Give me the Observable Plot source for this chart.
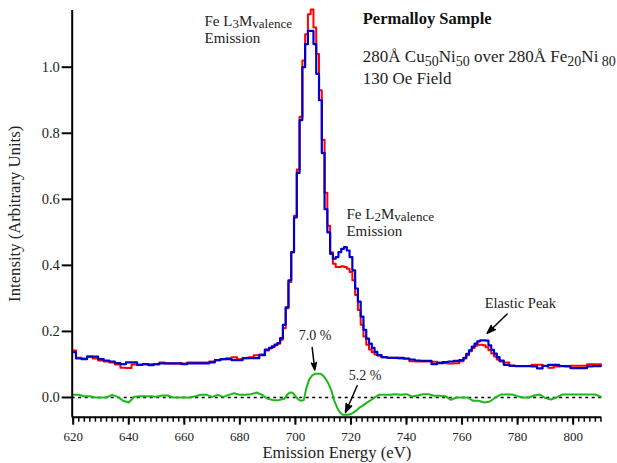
<!DOCTYPE html>
<html><head><meta charset="utf-8">
<script src="https://cdn.jsdelivr.net/npm/d3@7"></script>
<script src="https://cdn.jsdelivr.net/npm/@observablehq/plot@0.6"></script>
<style>html,body{margin:0;padding:0;background:#fff;}</style>
</head><body><div id="chart"></div>
<script>
// ---------- data ----------
const energy = [
  620,622,624,626,628,630,632,634,636,638,640,642,644,646,648,650,652,654,656,658,660,662,664,666,668,670,672,674,676,678,680,682,684,686,688,
  690,691,692,693,694,695,696,697,698,699,700,701,702,703,704,705,706,707,708,709,710,711,712,713,714,715,716,717,718,719,720,721,722,723,724,725,726,727,728,729,730,
  732,734,736,738,740,742,744,746,748,750,752,754,756,758,
  760,761,762,763,764,765,766,767,768,769,770,771,772,773,774,
  776,778,780,782,784,786,788,790,792,794,796,798,800,802,804,806,808,810
];
const blueIntensity = [
  0.137,0.118,0.116,0.124,0.124,0.116,0.112,0.109,0.104,0.101,0.106,0.106,0.099,0.101,0.098,0.101,0.103,0.103,0.103,0.103,0.101,0.103,0.103,0.103,0.103,0.106,0.113,0.116,0.116,0.113,0.113,0.119,0.119,0.119,0.128,
  0.145,0.15,0.155,0.16,0.165,0.18,0.22,0.273,0.355,0.44,0.545,0.68,0.84,1.0,1.07,1.11,1.11,1.07,0.98,0.90,0.74,0.57,0.50,0.435,0.42,0.425,0.44,0.45,0.455,0.445,0.425,0.385,0.33,0.29,0.245,0.205,0.178,0.163,0.150,0.138,0.128,
  0.122,0.120,0.120,0.120,0.118,0.115,0.112,0.111,0.111,0.101,0.104,0.107,0.109,0.111,
  0.113,0.120,0.132,0.143,0.154,0.163,0.170,0.173,0.173,0.172,0.158,0.144,0.133,0.122,0.112,
  0.099,0.096,0.095,0.095,0.095,0.094,0.088,0.096,0.099,0.099,0.095,0.094,0.089,0.089,0.089,0.094,0.095,0.095
];
const redIntensity = [
  0.142,0.120,0.118,0.124,0.118,0.112,0.109,0.106,0.100,0.090,0.089,0.100,0.099,0.101,0.101,0.101,0.106,0.103,0.103,0.103,0.103,0.106,0.106,0.106,0.106,0.109,0.113,0.116,0.119,0.122,0.116,0.119,0.122,0.128,0.130,
  0.142,0.148,0.152,0.158,0.163,0.175,0.21,0.27,0.35,0.44,0.55,0.69,0.85,1.02,1.10,1.16,1.175,1.12,1.04,0.93,0.78,0.62,0.52,0.44,0.405,0.395,0.395,0.397,0.395,0.39,0.38,0.355,0.31,0.265,0.22,0.185,0.16,0.145,0.137,0.13,0.127,
  0.122,0.120,0.120,0.118,0.117,0.110,0.109,0.109,0.109,0.108,0.106,0.104,0.103,0.104,
  0.110,0.118,0.128,0.140,0.150,0.157,0.160,0.160,0.158,0.152,0.143,0.133,0.124,0.115,0.109,
  0.106,0.097,0.095,0.095,0.095,0.099,0.099,0.095,0.090,0.094,0.095,0.095,0.096,0.096,0.096,0.101,0.101,0.101
];
const diffEnergy = [
  620,622,624,626,628,630,632,634,636,638,640,642,644,646,648,650,652,654,656,658,660,662,664,666,668,670,672,674,676,678,680,682,684,686,688,690,692,694,696,
  697,698,699,700,701,702,703,704,705,706,707,708,709,710,711,712,713,714,715,716,717,718,719,720,721,722,723,724,725,726,727,728,729,730,
  732,734,736,738,740,742,744,746,748,750,752,754,756,758,760,762,764,766,768,770,772,774,776,778,780,782,784,786,788,790,792,794,796,798,800,802,804,806,808,810
];
const difference = [
  0.008,0.008,0.004,0.004,0.0,0.0,0.0,0.008,0.002,-0.01,-0.015,0.002,0.004,0.004,0.004,0.002,0.006,0.006,0.0,0.0,0.0,0.0,0.004,0.008,0.008,0.002,0.008,0.002,0.008,0.013,0.008,0.008,0.01,0.015,0.008,-0.004,-0.008,-0.008,-0.004,
  0.008,0.015,0.014,0.004,-0.006,-0.01,-0.008,0.03,0.055,0.066,0.072,0.072,0.072,0.066,0.055,0.04,0.02,-0.01,-0.03,-0.045,-0.052,-0.052,-0.052,-0.05,-0.045,-0.039,-0.031,-0.026,-0.02,-0.014,-0.009,-0.003,0.003,0.008,
  0.008,0.008,0.01,0.008,0.01,0.003,0.006,0.01,0.01,0.005,0.005,0.004,-0.007,0.0,0.0,0.0,-0.01,-0.01,-0.015,-0.012,0.0,0.009,0.009,0.009,0.004,0.0,0.0,0.006,0.009,-0.002,-0.006,0.0,0.009,0.009,0.009,0.009,0.009,0.009,0.009,0.002
];
const xMajorTicks = [620,640,660,680,700,720,740,760,780,800];
const xMinorTicks = [620,622,624,626,628,630,632,634,636,638,640,642,644,646,648,650,652,654,656,658,660,662,664,666,668,670,672,674,676,678,680,682,684,686,688,690,692,694,696,698,700,702,704,706,708,710,712,714,716,718,720,722,724,726,728,730,732,734,736,738,740,742,744,746,748,750,752,754,756,758,760,762,764,766,768,770,772,774,776,778,780,782,784,786,788,790,792,794,796,798,800,802,804,806,808,810];
const yTicks = [0, 0.2, 0.4, 0.6, 0.8, 1.0];
const xLabel = "Emission Energy (eV)";
const yLabel = "Intensity (Arbitrary Units)";

// annotations (text, energy, intensity at baseline-left); _{..} marks a subscript
const peakL3Text = ["Fe L_{3}M_{valence}", "Emission"];
const peakL3E = [667.27, 667.27];
const peakL3I = [1.1248, 1.0739];
const peakL2Text = ["Fe L_{2}M_{valence}", "Emission"];
const peakL2E = [718.38, 718.38];
const peakL2I = [0.5406, 0.49];
const titleText = ["Permalloy Sample"];
const titleE = [724.25];
const titleI = [1.1294];
const sampleText = ["280Å Cu_{50}Ni_{50} over 280Å Fe_{20}Ni_{ 80}", "130 Oe Field"];
const sampleE = [724.25, 724.25];
const sampleI = [1.0152, 0.9497];
const elasticText = ["Elastic Peak"];
const elasticE = [768.16];
const elasticI = [0.2697];
const pctText = ["7.0 %", "5.2 %"];
const pctE = [701.21, 719.21];
const pctI = [0.1739, 0.0527];
const arrowE1 = [706.03, 722.23, 776.23];
const arrowI1 = [0.1515, 0.0355, 0.2527];
const arrowE2 = [706.97, 718.02, 769.03];
const arrowI2 = [0.0833, -0.0455, 0.1939];

// ---------- build ----------
const redData = energy.map((E, i) => ({E, v: redIntensity[i]}));
const blueData = energy.map((E, i) => ({E, v: blueIntensity[i]}));
const diffData = diffEnergy.map((E, i) => ({E, v: difference[i]}));
const table = (t, e, v) => t.map((s, i) => ({s, E: e[i], v: v[i]}));
const arrows = arrowE1.map((e, i) => ({x1: e, y1: arrowI1[i], x2: arrowE2[i], y2: arrowI2[i]}));

const xDomain = [619.64, 810.2];
const yDomain = [-0.0597, 1.1717];
const serif = "'Liberation Serif', 'Times New Roman', Times, serif";
const ink = "#222";

const note = (rows, size, extra = {}) =>
  Plot.text(rows, {x: "E", y: "v", text: "s", textAnchor: "start", lineAnchor: "bottom",
    fontSize: size, fill: ink, fontFamily: serif, ...extra});

const chart = Plot.plot({
  width: 617, height: 463,
  marginLeft: 71.7, marginRight: 16, marginTop: 10, marginBottom: 46.3,
  x: {domain: xDomain, axis: null},
  y: {domain: yDomain, axis: null},
  style: {fontFamily: serif, color: ink, background: "#fff", overflow: "visible"},
  marks: [
    Plot.ruleY([0], {stroke: "#000", strokeWidth: 1.5, strokeDasharray: "3,3.5"}),
    Plot.line(redData, {x: "E", y: "v", stroke: "#ff0000", strokeWidth: 2, curve: "step"}),
    Plot.line(blueData, {x: "E", y: "v", stroke: "#0000cc", strokeWidth: 2.2, curve: "step"}),
    Plot.line(diffData, {x: "E", y: "v", stroke: "#1cb81c", strokeWidth: 2, curve: "linear"}),
    Plot.axisX({ticks: xMinorTicks, tickSize: 5, tickFormat: () => "", stroke: "#000", strokeWidth: 1.5, label: null}),
    Plot.axisX({ticks: xMajorTicks, tickSize: 8, tickPadding: 7, tickFormat: d => String(d), stroke: "#000", strokeWidth: 2, fontSize: 13, fill: ink, label: null}),
    Plot.axisY({ticks: yTicks, tickSize: 10, tickPadding: 2.4, tickFormat: d3.format(".1f"), stroke: "#000", strokeWidth: 2, fontSize: 14.5, fill: ink, label: null}),
    Plot.ruleX([xDomain[0]], {stroke: "#000", strokeWidth: 2}),
    Plot.ruleY([yDomain[0]], {stroke: "#000", strokeWidth: 2}),
    Plot.text([xLabel], {text: d => d, frameAnchor: "bottom", dy: 41, lineAnchor: "bottom", textAnchor: "middle", fontSize: 16.7, fill: ink}),
    Plot.text([yLabel], {text: d => d, frameAnchor: "left", dx: -52, rotate: -90, lineAnchor: "bottom", textAnchor: "middle", fontSize: 16.7, fill: ink}),
    note(table(peakL3Text, peakL3E, peakL3I), 15),
    note(table(peakL2Text, peakL2E, peakL2I), 15),
    note(table(titleText, titleE, titleI), 16.5, {fontWeight: "bold", fill: "#111"}),
    note(table(sampleText, sampleE, sampleI), 17),
    note(table(elasticText, elasticE, elasticI), 14.5),
    note(table(pctText, pctE, pctI), 14),
    Plot.arrow(arrows, {x1: "x1", y1: "y1", x2: "x2", y2: "y2", stroke: "#000", fill: "#000", strokeWidth: 1.5, headLength: 9, headAngle: 38})
  ]
});
document.getElementById("chart").appendChild(chart);

// subscripts: size and drop depend on the annotation's font size
const subStyle = {15: [13, 1.8], 17: [14, 4]};
chart.querySelectorAll("text").forEach(t => {
  const s = t.textContent;
  if (!s.includes("_{")) return;
  let node = t, fs = null;
  while (node && node !== chart && fs == null) { fs = node.getAttribute && node.getAttribute("font-size"); node = node.parentNode; }
  const [subSize, shift] = subStyle[Math.round(parseFloat(fs))] || [13, 2];
  const parts = s.split(/(_\{[^}]*\})/).filter(p => p.length);
  t.textContent = "";
  let down = false;
  for (const p of parts) {
    const sub = p.startsWith("_{");
    const ts = document.createElementNS("http://www.w3.org/2000/svg", "tspan");
    ts.textContent = sub ? p.slice(2, -1) : p;
    if (sub) { ts.setAttribute("font-size", subSize); if (!down) ts.setAttribute("dy", shift); down = true; }
    else if (down) { ts.setAttribute("dy", -shift); down = false; }
    t.appendChild(ts);
  }
});
</script></body></html>
